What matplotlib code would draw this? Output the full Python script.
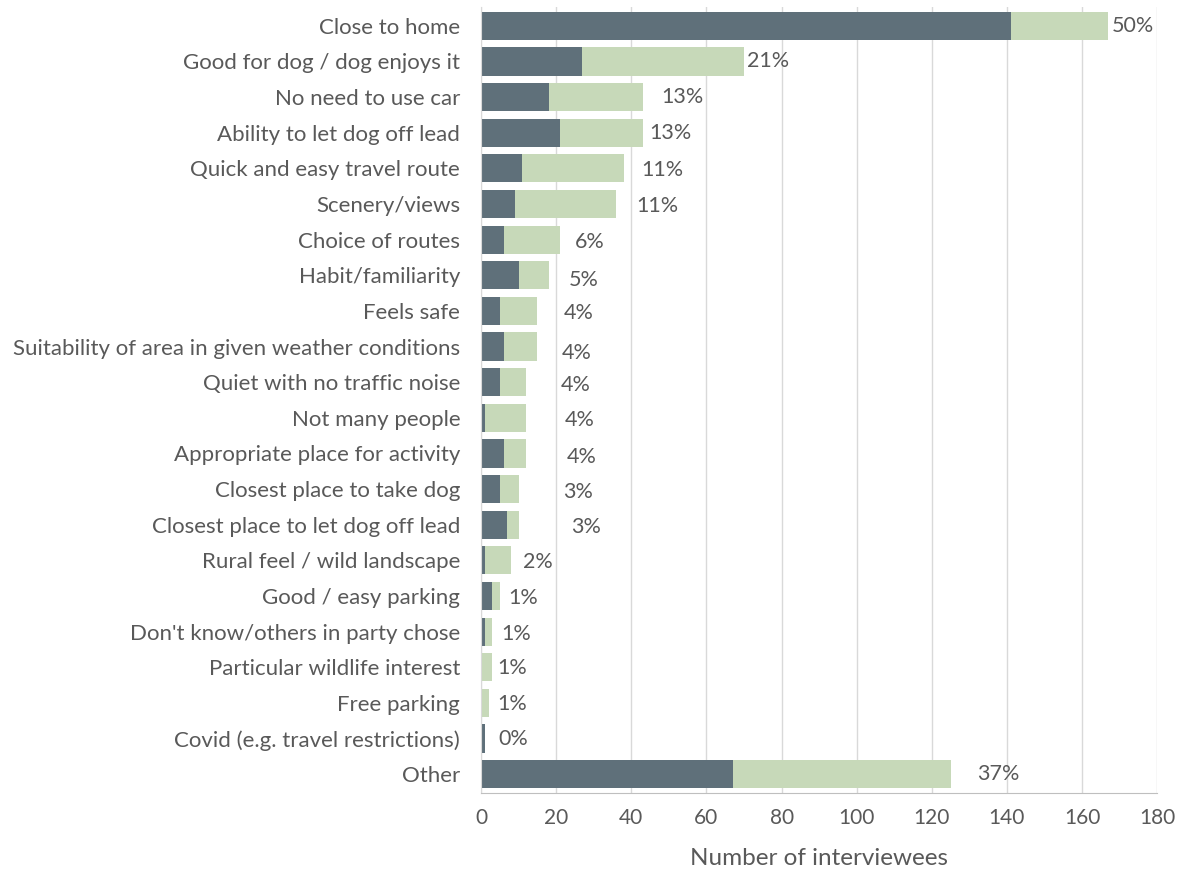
import matplotlib.pyplot as plt
import numpy as np

plt.rcParams['font.family'] = ['Lato', 'DejaVu Sans']

reasons = [
    'Close to home',
    'Good for dog / dog enjoys it',
    'No need to use car',
    'Ability to let dog off lead',
    'Quick and easy travel route',
    'Scenery/views',
    'Choice of routes',
    'Habit/familiarity',
    'Feels safe',
    'Suitability of area in given weather conditions',
    'Quiet with no traffic noise',
    'Not many people',
    'Appropriate place for activity',
    'Closest place to take dog',
    'Closest place to let dog off lead',
    'Rural feel / wild landscape',
    'Good / easy parking',
    "Don't know/others in party chose",
    'Particular wildlife interest',
    'Free parking',
    'Covid (e.g. travel restrictions)',
    'Other',
]
# dark part of each bar and the full bar length (interviewees)
main_count = [141, 27, 18, 21, 11, 9, 6, 10, 5, 6, 5, 1, 6, 5, 7, 1, 3, 1, 0, 0, 1, 67]
total_count = [167, 70, 43, 43, 38, 36, 21, 18, 15, 15, 12, 12, 12, 10, 10, 8, 5, 3, 3, 2, 1, 125]
pct_labels = ['50%', '21%', '13%', '13%', '11%', '11%', '6%', '5%', '4%', '4%', '4%',
              '4%', '4%', '3%', '3%', '2%', '1%', '1%', '1%', '1%', '0%', '37%']

# label nudges in pixels (right, down)
lab_dx = [3, 3, 19, 7, 17, 20, 15, 20, 26, 24, 35, 39, 41, 44, 52, 12, 8, 9, 5, 9, 14, 27]
lab_dy = [0, 0, 0, 0, 2, 2, 2, 5, 2, 6, 3, 2, 4, 3, 2, 2, 2, 2, 1, 1, 1, 0]

dark = '#5f707a'
light = '#c7d9b9'
txt = '#595959'

y = np.arange(len(reasons))
rest = np.array(total_count) - np.array(main_count)

fig = plt.figure(figsize=(11.82, 8.72), dpi=100)
ax = fig.add_axes([0.407, 0.0906, 0.572, 0.9014])

ax.barh(y, main_count, height=0.79, color=dark, zorder=2)
ax.barh(y, rest, left=main_count, height=0.79, color=light, zorder=2)

for i in range(len(reasons)):
    ax.annotate(pct_labels[i], (total_count[i], y[i]), xytext=(lab_dx[i], -lab_dy[i]),
                textcoords='offset pixels', va='center', ha='left',
                fontsize=15.5, color=txt)

ax.set_xlim(0, 180)
ax.set_ylim(len(reasons) - 0.47, -0.53)
ax.set_xticks(np.arange(0, 181, 20))
ax.set_yticks(y)
ax.set_yticklabels(reasons)
ax.tick_params(axis='y', length=0, pad=15, labelsize=16, labelcolor=txt)
ax.tick_params(axis='x', length=0, pad=11, labelsize=15, labelcolor=txt)
ax.grid(axis='x', color='#d9d9d9', linewidth=1, zorder=0)
ax.set_axisbelow(True)

for side in ['top', 'right']:
    ax.spines[side].set_visible(False)
ax.spines['bottom'].set_color('#bfbfbf')
ax.spines['left'].set_color('#d9d9d9')

ax.set_xlabel('Number of interviewees', fontsize=17.5, color=txt, labelpad=14)

plt.savefig('out.png', dpi=100)
